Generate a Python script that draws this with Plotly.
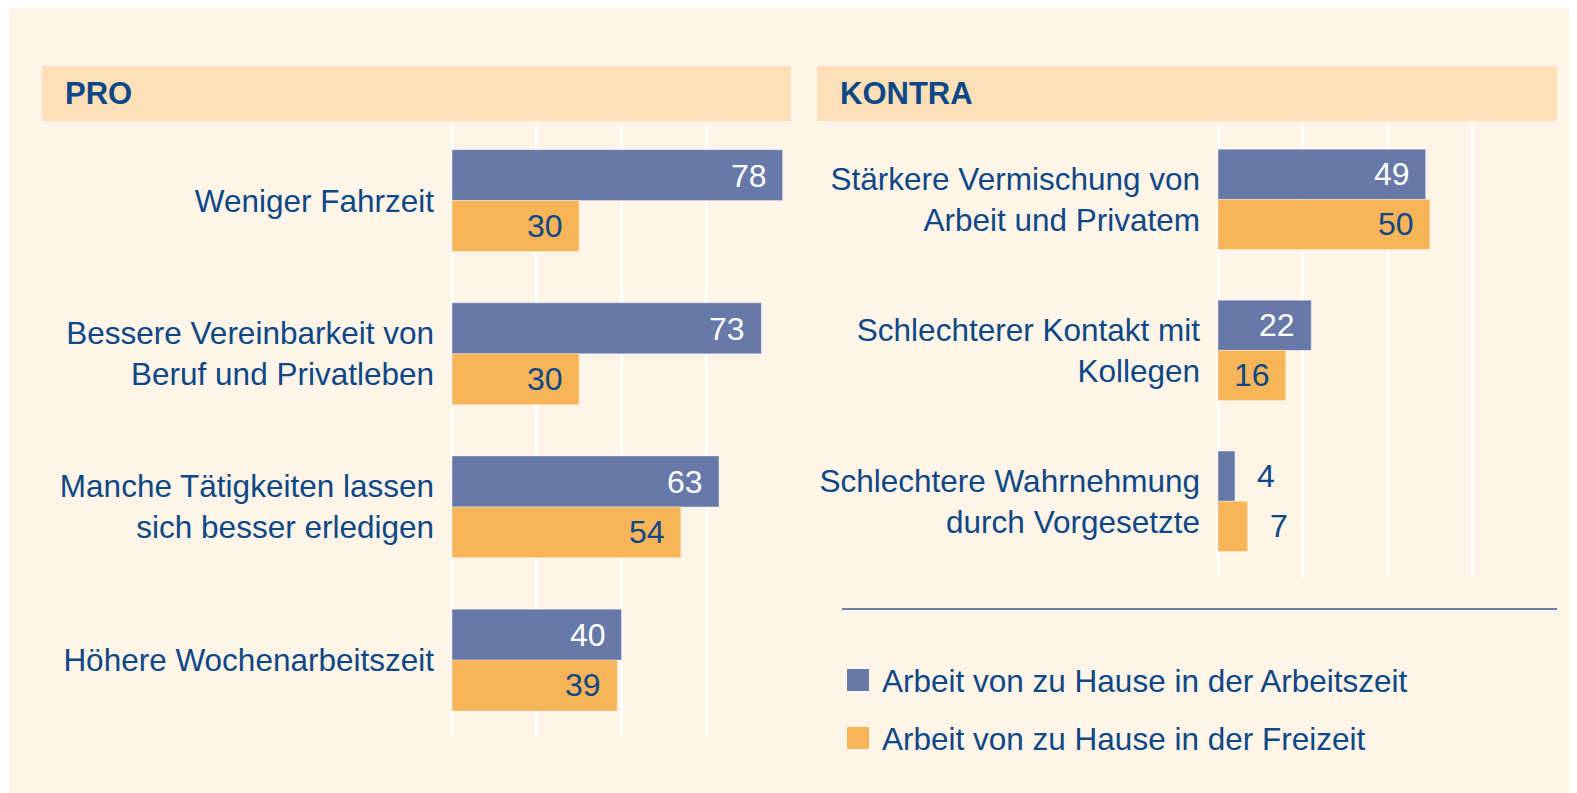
"""
PRO / KONTRA: Arbeit von zu Hause – horizontale Balken, zwei Panels
"""

import plotly.graph_objects as go

# Daten
pro_kategorien = [
    "Weniger Fahrzeit",
    "Bessere Vereinbarkeit von<br>Beruf und Privatleben",
    "Manche Tätigkeiten lassen<br>sich besser erledigen",
    "Höhere Wochenarbeitszeit",
]
pro_arbeitszeit = [78, 73, 63, 40]
pro_freizeit = [30, 30, 54, 39]

kontra_kategorien = [
    "Stärkere Vermischung von<br>Arbeit und Privatem",
    "Schlechterer Kontakt mit<br>Kollegen",
    "Schlechtere Wahrnehmung<br>durch Vorgesetzte",
]
kontra_arbeitszeit = [49, 22, 4]
kontra_freizeit = [50, 16, 7]

serien = ["Arbeit von zu Hause in der Arbeitszeit", "Arbeit von zu Hause in der Freizeit"]
titel = ["PRO", "KONTRA"]

# Farben
BLAU = "#6679a9"
ORANGE = "#f8b459"
TEXT = "#0d4785"
CREME = "#fef4e8"
KOPF = "#fde0b8"
PLOT_BG = "#fdebd3"
FONT = "Liberation Sans, Arial, sans-serif"

W, H = 1577, 793
# die Seite hat 8px Rand (body margin) -> Bildschirm-Pixel in Papierkoordinaten umrechnen
RAND = 8


def px_x(p):
    return (p - RAND) / W


def px_y(p):
    return 1 - (p - RAND) / H


fig = go.Figure()

panels = [
    (pro_kategorien, pro_arbeitszeit, pro_freizeit, "x", "y"),
    (kontra_kategorien, kontra_arbeitszeit, kontra_freizeit, "x2", "y2"),
]

annotations = []
for kat, blau, orange, xa, ya in panels:
    fig.add_trace(go.Bar(
        y=kat, x=blau, orientation="h", name=serien[0],
        marker=dict(color=BLAU, line=dict(color="rgba(255,255,255,0.35)", width=1)),
        xaxis=xa, yaxis=ya, showlegend=False, hoverinfo="x+y",
    ))
    fig.add_trace(go.Bar(
        y=kat, x=orange, orientation="h", name=serien[1],
        marker=dict(color=ORANGE, line=dict(color="rgba(255,255,255,0.35)", width=1)),
        xaxis=xa, yaxis=ya, showlegend=False, hoverinfo="x+y",
    ))
    # Wertebeschriftungen (innen rechtsbündig, bei kleinen Werten außen)
    for werte, farbe_innen, yshift in [(blau, "white", 25), (orange, TEXT, -25)]:
        for k, v in zip(kat, werte):
            innen = v >= 10
            annotations.append(dict(
                x=v, y=k, xref=xa, yref=ya, text=str(v), showarrow=False,
                xanchor="right" if innen else "left",
                xshift=-14 if innen else 20, yshift=yshift,
                font=dict(size=32, color=farbe_innen if innen else TEXT, family=FONT),
            ))

achse_x = dict(
    range=[0, 80], tick0=0, dtick=20, showgrid=True, gridcolor="white", gridwidth=2.5,
    zeroline=True, zerolinecolor="white", zerolinewidth=2.5,
    showticklabels=False, ticks="", fixedrange=True,
)
achse_y = dict(
    autorange="reversed", showgrid=False, ticks="", ticklabelstandoff=17,
    tickfont=dict(size=31.5, color=TEXT, family=FONT), fixedrange=True,
)

fig.update_layout(
    xaxis=dict(achse_x, domain=[px_x(452), px_x(791)]),
    yaxis=dict(achse_y, domain=[px_y(736.7), px_y(124)], anchor="x"),
    xaxis2=dict(achse_x, domain=[px_x(1218), px_x(1557)], anchor="y2"),
    yaxis2=dict(achse_y, domain=[px_y(576.7), px_y(124)], anchor="x2"),
    barmode="group", bargap=0.335, bargroupgap=0,
    width=W, height=H, margin=dict(l=0, r=0, t=0, b=0),
    paper_bgcolor="white", plot_bgcolor=PLOT_BG,
    font=dict(family=FONT, color=TEXT),
    showlegend=False,
)

# Hintergrund, Kopfzeilen, Trennlinie, Legende
shapes = [
    dict(type="rect", xref="paper", yref="paper", x0=px_x(9), x1=1, y0=0, y1=px_y(6),
         fillcolor=CREME, line_width=0, layer="below"),
    dict(type="rect", xref="paper", yref="paper", x0=px_x(42), x1=px_x(791),
         y0=px_y(121), y1=px_y(66), fillcolor=KOPF, line_width=0, layer="below"),
    dict(type="rect", xref="paper", yref="paper", x0=px_x(817), x1=px_x(1557),
         y0=px_y(121), y1=px_y(66), fillcolor=KOPF, line_width=0, layer="below"),
    dict(type="line", xref="paper", yref="paper", x0=px_x(842), x1=px_x(1557),
         y0=px_y(609), y1=px_y(609), line=dict(color="#6d7fb0", width=2)),
]
for farbe, top in [(BLAU, 669), (ORANGE, 727)]:
    shapes.append(dict(type="rect", xref="paper", yref="paper",
                       x0=px_x(847), x1=px_x(869), y0=px_y(top + 22), y1=px_y(top),
                       fillcolor=farbe, line_width=0))
for name, mitte in zip(serien, [681, 739]):
    annotations.append(dict(x=px_x(880), y=px_y(mitte), xref="paper", yref="paper",
                            text=name, showarrow=False, xanchor="left", yanchor="middle",
                            font=dict(size=31.5, color=TEXT, family=FONT)))
for t, x in zip(titel, [63, 838]):
    annotations.append(dict(x=px_x(x), y=px_y(93.5), xref="paper", yref="paper",
                            text="<b>" + t + "</b>", showarrow=False,
                            xanchor="left", yanchor="middle",
                            font=dict(size=31, color=TEXT, family=FONT)))

fig.update_layout(shapes=shapes, annotations=annotations)

fig.write_html("out.html")
